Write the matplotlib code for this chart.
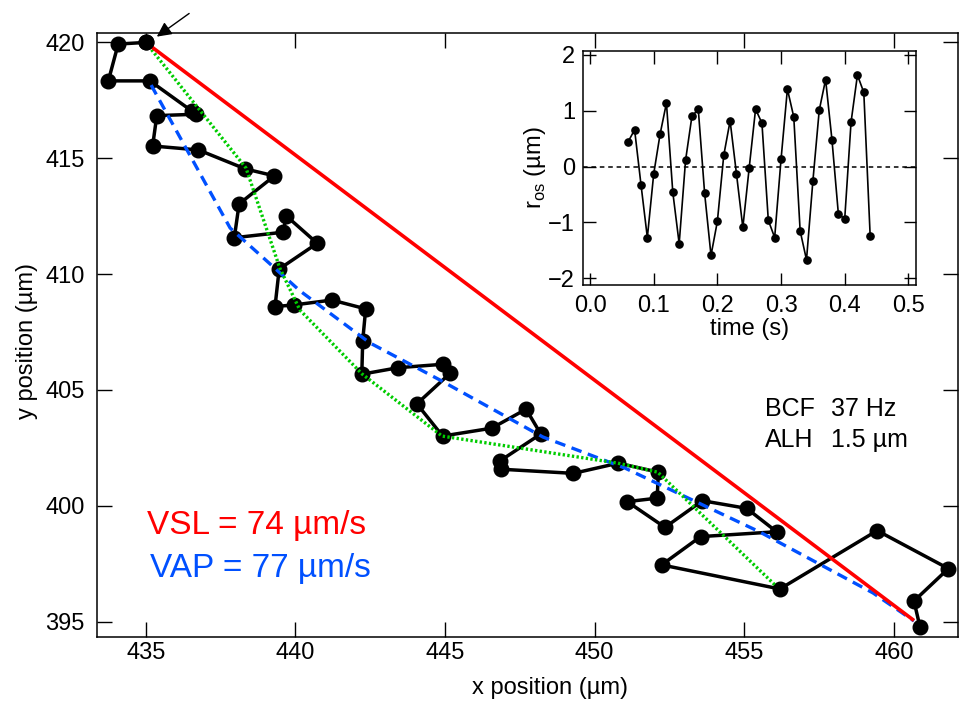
import matplotlib
matplotlib.use("Agg")
import matplotlib.pyplot as plt

plt.rcParams['font.family'] = ['Liberation Sans', 'DejaVu Sans']

# ---- trajectory data (µm) ----
track_x = [435.00, 434.08, 433.75, 435.14, 436.54, 436.68, 435.37, 435.23, 436.76, 438.33,
           439.30, 438.12, 437.96, 439.60, 439.69, 440.73, 439.46, 439.32, 439.96, 441.22,
           442.35, 442.25, 442.22, 443.43, 444.94, 445.17, 444.06, 444.92, 446.56, 447.71,
           448.20, 446.84, 446.86, 449.29, 450.79, 452.13, 452.09, 451.09, 452.35, 453.60,
           455.08, 456.08, 453.54, 452.24, 456.19, 459.44, 461.82, 460.67, 460.87]
track_y = [420.00, 419.93, 418.34, 418.34, 417.04, 416.90, 416.84, 415.53, 415.36, 414.54,
           414.24, 413.03, 411.57, 411.81, 412.52, 411.33, 410.22, 408.60, 408.67, 408.88,
           408.50, 407.13, 405.68, 405.96, 406.11, 405.72, 404.40, 403.01, 403.35, 404.17,
           403.10, 401.94, 401.58, 401.40, 401.84, 401.45, 400.33, 400.18, 399.07, 400.22,
           399.89, 398.88, 398.67, 397.45, 396.41, 398.93, 397.29, 395.89, 394.78]

# VSL straight line
vsl_x = [435.00, 460.67]
vsl_y = [420.00, 395.05]

# VAP average path
vap_x = [435.18, 437.82, 440.16, 442.49, 444.83, 448.27, 451.01, 455.52, 459.30, 460.67]
vap_y = [418.16, 411.99, 409.27, 407.03, 405.43, 402.97, 401.63, 398.87, 396.24, 395.03]

# green dotted path
grn_x = [435.00, 438.35, 439.48, 440.15, 442.23, 444.90, 450.78, 452.11, 456.06]
grn_y = [420.00, 414.58, 410.26, 408.45, 405.69, 403.01, 401.84, 401.45, 396.54]

# arrow (tip, tail)
arrow_tip = (435.37, 420.25)
arrow_tail = (436.45, 421.25)

# ---- inset data ----
t_vals = [0.06, 0.07, 0.08, 0.09, 0.10, 0.11, 0.12, 0.13, 0.14, 0.15, 0.16, 0.17, 0.18,
          0.19, 0.20, 0.21, 0.22, 0.23, 0.24, 0.25, 0.26, 0.27, 0.28, 0.29, 0.30, 0.31,
          0.32, 0.33, 0.34, 0.35, 0.36, 0.37, 0.38, 0.39, 0.40, 0.41, 0.42, 0.43, 0.44]
r_os = [0.45, 0.66, -0.32, -1.27, -0.13, 0.58, 1.14, -0.46, -1.38, 0.11, 0.90, 1.03, -0.48,
        -1.59, -0.98, 0.20, 0.82, -0.13, -1.09, -0.02, 1.03, 0.78, -0.96, -1.27, 0.13, 1.39,
        0.89, -1.15, -1.67, -0.26, 1.01, 1.56, 0.48, -0.84, -0.94, 0.80, 1.64, 1.33, -1.24]

main_xticks = [435, 440, 445, 450, 455, 460]
main_yticks = [395, 400, 405, 410, 415, 420]
inset_xticks = [0.0, 0.1, 0.2, 0.3, 0.4, 0.5]
inset_xticklabels = ['0.0', '0.1', '0.2', '0.3', '0.4', '0.5']
inset_yticks = [-2, -1, 0, 1, 2]

RED = '#ff0000'
BLUE = '#0050ff'
GREEN = '#00cc00'

fig = plt.figure(figsize=(9.59, 7.03), dpi=100)
ax = fig.add_axes([0.1011, 0.0943, 0.8975, 0.8592])

ax.plot(track_x, track_y, '-o', color='black', lw=2.5, ms=10.5, zorder=2)
ax.plot(vap_x, vap_y, color=BLUE, lw=2.4, dashes=(3.2, 2.0), zorder=3)
ax.plot(grn_x, grn_y, color=GREEN, lw=2.4, dashes=(0.7, 0.7), zorder=3)
ax.plot(vsl_x, vsl_y, color=RED, lw=2.6, zorder=3, solid_capstyle='butt')
ax.plot(track_x[:1], track_y[:1], 'o', color='black', ms=10.5, zorder=4)

ax.annotate('', xy=arrow_tip, xytext=arrow_tail,
            arrowprops=dict(arrowstyle='-|>', color='black', lw=1.0,
                            mutation_scale=22, shrinkA=0, shrinkB=0),
            annotation_clip=False, zorder=5)

ax.set_xlim(433.37, 462.13)
ax.set_ylim(394.35, 420.42)
ax.set_xticks(main_xticks)
ax.set_yticks(main_yticks)
ax.tick_params(direction='in', length=11, width=1.0, top=True, right=True,
               labelsize=17, colors='black')
ax.tick_params(axis='y', pad=9)
ax.tick_params(axis='x', pad=4)
for s in ax.spines.values():
    s.set_linewidth(1.1)
ax.set_xlabel('x position (µm)', fontsize=17)
ax.set_ylabel('y position (µm)', fontsize=17)
ax.xaxis.set_label_coords(0.526, -0.066)
ax.yaxis.set_label_coords(-0.069, 0.49)


def fx(px):
    return px / 959.0


def fy(py):
    return 1 - py / 703.0


fig.text(fx(147), fy(534), 'VSL = 74 µm/s', fontsize=24, color=RED, va='baseline')
fig.text(fx(150), fy(577), 'VAP = 77 µm/s', fontsize=24, color=BLUE, va='baseline')
fig.text(fx(765), fy(416), 'BCF', fontsize=18, va='baseline')
fig.text(fx(831), fy(416), '37 Hz', fontsize=18, va='baseline')
fig.text(fx(765), fy(447), 'ALH', fontsize=18, va='baseline')
fig.text(fx(831), fy(447), '1.5 µm', fontsize=18, va='baseline')

# ---- inset ----
ins = fig.add_axes([0.6083, 0.5946, 0.3466, 0.3333])
ins.axhline(0, color='black', lw=1.1, dashes=(3, 2.5), zorder=1)
ins.plot(t_vals, r_os, '-o', color='black', lw=1.2, ms=5.2, zorder=2)
ins.set_xlim(-0.0105, 0.5116)
ins.set_ylim(-2.12, 2.077)
ins.set_xticks(inset_xticks)
ins.set_xticklabels(inset_xticklabels)
ins.set_yticks(inset_yticks)
ins.tick_params(direction='in', length=9, width=1.0, top=True, right=True,
                labelsize=17)
ins.tick_params(axis='y', pad=6)
ins.tick_params(axis='x', pad=7)
for s in ins.spines.values():
    s.set_linewidth(1.1)
ins.set_xlabel('time (s)', fontsize=17, labelpad=1)
ins.set_ylabel('r$_{\\mathregular{os}}$ (µm)', fontsize=17, labelpad=0)

fig.savefig('out.png', dpi=100)
